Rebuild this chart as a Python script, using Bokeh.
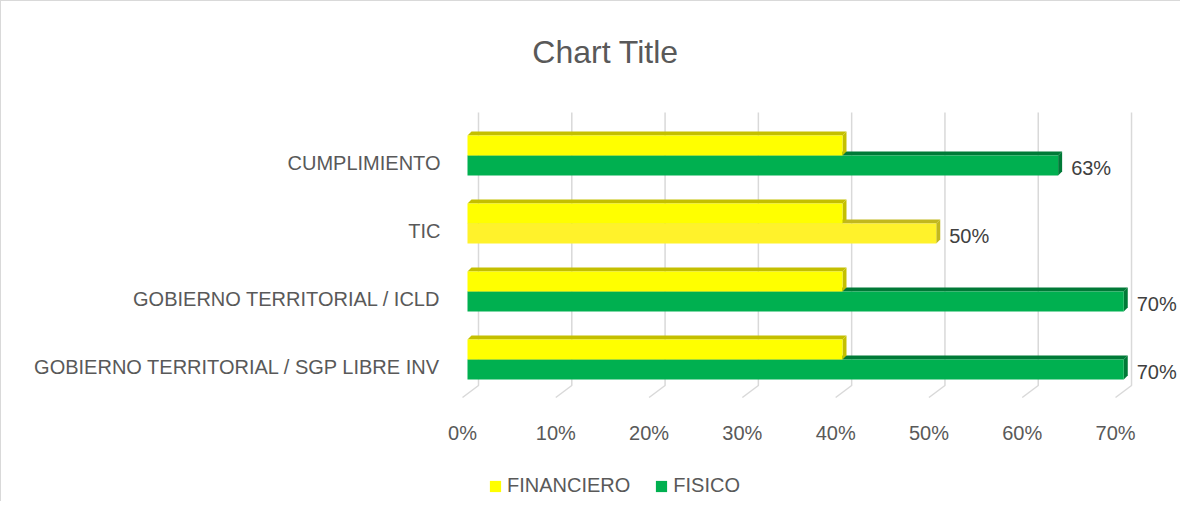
from bokeh.plotting import figure
from bokeh.models import (Range1d, ColumnDataSource, Legend, LegendItem, Label)
from bokeh.embed import file_html
from bokeh.resources import INLINE
from bokeh.core.properties import value

# ---------------- data ----------------
categories = ["GOBIERNO TERRITORIAL / SGP LIBRE INV", "GOBIERNO TERRITORIAL / ICLD",
              "TIC", "CUMPLIMIENTO"]
financiero = [0.40, 0.40, 0.40, 0.40]
fisico = [0.70, 0.70, 0.50, 0.63]
x_ticks = [0.0, 0.1, 0.2, 0.3, 0.4, 0.5, 0.6, 0.7]
x_tick_labels = ["0%", "10%", "20%", "30%", "40%", "50%", "60%", "70%"]
series_names = ["FINANCIERO", "FISICO"]
title_text = "Chart Title"

# ---------------- style ----------------
FONT = "Liberation Sans"
TXT = "#595959"
fin_front, fin_side = "#FFFF00", "#C4BF00"
fis_front = ["#00B050", "#00B050", "#FFF22B", "#00B050"]
fis_side = ["#007A37", "#007A37", "#C2B81E", "#007A37"]
GRID = "#D9D9D9"

W, H = 1180, 501
PXX = 937.5   # px per data unit (x) for bars
PXY = 68.0    # px per category (y)
FX = 932.9    # px per unit for floor / tick labels
DX, DY = 4 / PXX, 4 / PXY          # bar depth
BOFF = 7 / PXY                       # boundary offset above label
BH = 20 / PXY                        # bar height

x0 = -466 / PXX
y1 = 365 / PXY
p = figure(width=W, height=H, output_backend="svg", toolbar_location=None,
           x_range=Range1d(x0, x0 + W / PXX), y_range=Range1d(y1 - H / PXY, y1),
           x_axis_type=None, y_axis_type=None,
           min_border_left=0, min_border_right=0, min_border_top=0, min_border_bottom=0)
p.outline_line_color = None
p.background_fill_color = "white"
p.border_fill_color = "white"
p.styles = {"border-left": "1px solid #D9D9D9", "border-top": "1px solid #D9D9D9"}
fx0 = -461 / FX
p.extra_x_ranges = {"floor": Range1d(fx0, fx0 + W / FX)}

def sy(py):
    """screen row of the reference layout -> y data coordinate"""
    return (366 - py) / PXY

# ---------------- back grid (3D floor + wall lines) ----------------
yf, yb, yt = sy(397), sy(385), sy(112)
gdx = 16 / FX
gx = [[t, t + gdx, t + gdx] for t in x_ticks]
gy = [[yf, yb, yt] for _ in x_ticks]
p.multi_line(xs=gx, ys=gy, line_color=GRID, line_width=1.5, x_range_name="floor")

# ---------------- bars ----------------
def draw(vals, lo_off, hi_off, front, side):
    rows = [(v, i + BOFF + lo_off, i + BOFF + hi_off) for i, v in enumerate(vals)]
    front_src = ColumnDataSource(dict(left=[0] * len(rows), right=[r[0] for r in rows],
                                      bottom=[r[1] for r in rows], top=[r[2] for r in rows],
                                      color=front))
    topx = [[0, r[0], r[0] + DX, DX] for r in rows]
    topy = [[r[2], r[2], r[2] + DY, r[2] + DY] for r in rows]
    sidex = [[r[0], r[0], r[0] + DX, r[0] + DX] for r in rows]
    sidey = [[r[1], r[2], r[2] + DY, r[1] + DY] for r in rows]
    face_src = ColumnDataSource(dict(tx=topx, ty=topy, sx=sidex, sy=sidey, color=side))
    p.patches("tx", "ty", source=face_src, fill_color="color", line_color=None)
    p.patches("sx", "sy", source=face_src, fill_color="color", line_color=None)
    return p.quad(left="left", right="right", bottom="bottom", top="top",
                  source=front_src, fill_color="color", line_color=None)

fis_r = draw(fisico, -BH, 0, fis_front, fis_side)
fin_r = draw(financiero, 0, BH, [fin_front] * len(financiero), [fin_side] * len(financiero))

# ---------------- data labels ----------------
lab_src = ColumnDataSource(dict(x=fisico, y=[i + BOFF - BH / 2 for i in range(len(fisico))],
                                t=[f"{round(v * 100)}%" for v in fisico]))
p.text(x="x", y="y", text="t", source=lab_src, x_offset=13, y_offset=2,
       text_font=value(FONT), text_font_size="20px", text_color="#404040",
       text_align="left", text_baseline="middle")

# ---------------- category labels (left) ----------------
cat_src = ColumnDataSource(dict(x=[0] * len(categories), y=list(range(len(categories))),
                                t=categories))
p.text(x="x", y="y", text="t", source=cat_src, x_offset=-27,
       text_font=value(FONT), text_font_size="20px", text_color=TXT,
       text_align="right", text_baseline="middle")

# ---------------- x tick labels ----------------
tick_src = ColumnDataSource(dict(x=x_ticks, y=[sy(432)] * len(x_ticks), t=x_tick_labels))
p.text(x="x", y="y", text="t", source=tick_src, x_range_name="floor",
       text_font=value(FONT), text_font_size="20px", text_color=TXT,
       text_align="center", text_baseline="middle")

# ---------------- title ----------------
p.add_layout(Label(x=(605 - 467) / PXX, y=sy(51), text=title_text,
                   text_align="center", text_baseline="middle",
                   text_font=FONT, text_font_size="32px", text_color=TXT))

# ---------------- legend ----------------
legend = Legend(items=[LegendItem(label=series_names[0], renderers=[fin_r], index=0),
                       LegendItem(label=series_names[1], renderers=[fis_r], index=0)],
                orientation="horizontal", location=(487, H - 497 + 1))
legend.glyph_width = 14
legend.glyph_height = 14
legend.label_standoff = 5
legend.spacing = 24
legend.padding = 0
legend.margin = 0
legend.border_line_color = None
legend.background_fill_alpha = 0
legend.label_text_font = FONT
legend.label_text_font_size = "20px"
legend.label_text_color = TXT
legend.label_height = 20
p.add_layout(legend)

open("out.html", "w").write(file_html(p, INLINE))
